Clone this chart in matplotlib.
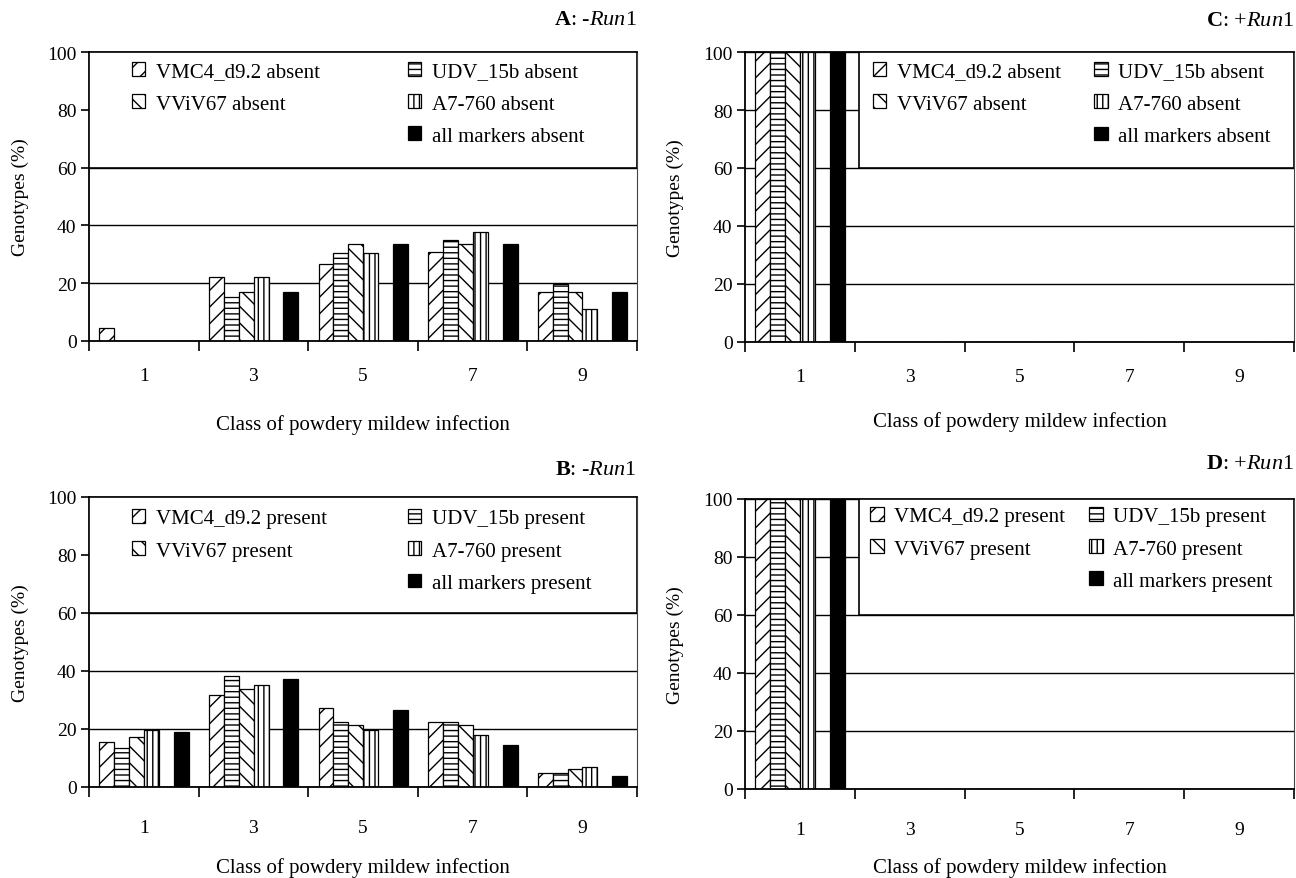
import matplotlib
matplotlib.use("Agg")
import matplotlib.pyplot as plt
from matplotlib.patches import Rectangle
import numpy as np

plt.rcParams['font.family'] = ['Liberation Serif', 'DejaVu Serif']
plt.rcParams['mathtext.fontset'] = 'custom'
plt.rcParams['mathtext.rm'] = 'Liberation Serif'
plt.rcParams['mathtext.it'] = 'Liberation Serif:italic'
plt.rcParams['mathtext.bf'] = 'Liberation Serif:bold'
plt.rcParams['hatch.linewidth'] = 1.0

# ---------------- data ----------------
classes = ["1", "3", "5", "7", "9"]
markers = ["VMC4_d9.2", "UDV_15b", "VViV67", "A7-760", "all markers"]

# Panel A: -Run1, markers absent
A_vmc4 = [4.6, 22.3, 26.5, 30.9, 17.1]
A_udv = [0.0, 15.3, 30.4, 35.1, 19.8]
A_vviv = [0.0, 16.9, 33.5, 33.5, 16.9]
A_a7 = [0.0, 22.3, 30.4, 37.6, 11.2]
A_all = [0.0, 16.9, 33.5, 33.5, 16.9]

# Panel B: -Run1, markers present
B_vmc4 = [15.5, 31.7, 27.1, 22.5, 4.9]
B_udv = [13.4, 38.3, 22.5, 22.5, 4.9]
B_vviv = [17.3, 33.9, 21.5, 21.5, 6.3]
B_a7 = [19.8, 35.1, 19.8, 17.9, 7.0]
B_all = [18.9, 37.1, 26.5, 14.6, 3.8]

# Panel C: +Run1, markers absent
C_vmc4 = [100, 0, 0, 0, 0]
C_udv = [100, 0, 0, 0, 0]
C_vviv = [100, 0, 0, 0, 0]
C_a7 = [100, 0, 0, 0, 0]
C_all = [100, 0, 0, 0, 0]

# Panel D: +Run1, markers present
D_vmc4 = [100, 0, 0, 0, 0]
D_udv = [100, 0, 0, 0, 0]
D_vviv = [100, 0, 0, 0, 0]
D_a7 = [100, 0, 0, 0, 0]
D_all = [100, 0, 0, 0, 0]

# ---------------- style ----------------
hatches = ['//', '---', '\\\\', '|||', None]
slots = [0, 1, 2, 3, 5]
BAR_W = 0.136
OFFSET = 0.094
FS = 15

W, H = 1296, 879
fig = plt.figure(figsize=(W / 100, H / 100), dpi=100)


def rect_px(left, right, top, bottom):
    return [left / W, 1 - bottom / H, (right - left) / W, (bottom - top) / H]


def panel(rect, series, state, title, title_y, box_x, col1_x, col2_x, leg_top,
          tick_pad, xlabel_y):
    ax = fig.add_axes(rect)
    ax.set_axisbelow(True)
    x = np.arange(len(classes))
    bars = []
    for k, (vals, h) in enumerate(zip(series, hatches)):
        pos = x + OFFSET + (slots[k] + 0.5) * BAR_W
        fc = 'black' if h is None else 'white'
        b = ax.bar(pos, vals, width=BAR_W, color=fc, edgecolor='black',
                   hatch=h, linewidth=0.9, zorder=2,
                   label=f"{markers[k]} {state}")
        bars.append(b)

    ax.set_xlim(0, 5)
    ax.set_ylim(0, 100)
    ax.set_yticks(np.arange(0, 101, 20))
    ax.yaxis.grid(True, color='black', linewidth=1.0, zorder=0.5)
    ax.tick_params(axis='y', direction='out', length=6, width=1.2, pad=3,
                   labelsize=14)
    ax.set_xticks(np.arange(0, 6))
    ax.set_xticklabels([])
    ax.set_xticks(x + 0.5, minor=True)
    ax.set_xticklabels(classes, minor=True)
    ax.tick_params(axis='x', which='major', direction='out', length=7,
                   width=1.2)
    ax.tick_params(axis='x', which='minor', length=0, pad=tick_pad,
                   labelsize=14)
    for s in ['left', 'bottom', 'top']:
        ax.spines[s].set_linewidth(1.3)
    ax.spines['right'].set_linewidth(0.8)
    ax.spines['right'].set_color('#444444')

    ax.set_ylabel("Genotypes (%)", fontsize=14)
    ax.yaxis.set_label_coords(-0.126, 0.5)
    ax.yaxis.label.set_verticalalignment('center')
    ax.set_xlabel("Class of powdery mildew infection", fontsize=15)
    ax.xaxis.set_label_coords(0.5, xlabel_y)
    ax.xaxis.label.set_verticalalignment('center')

    ax.text(1.0, title_y, title, transform=ax.transAxes, ha='right',
            va='center', fontsize=16)

    box = Rectangle((box_x, 0.6), 1 - box_x, 0.4, transform=ax.transAxes,
                    facecolor='white', edgecolor='black', linewidth=1.2,
                    zorder=3)
    ax.add_patch(box)

    common = dict(loc='upper left', frameon=False, handlelength=0.65,
                  handleheight=0.65, handletextpad=0.5, labelspacing=0.62,
                  borderpad=0, borderaxespad=0, fontsize=FS)
    leg1 = ax.legend([bars[0], bars[2]],
                     [f"{markers[0]} {state}", f"{markers[2]} {state}"],
                     bbox_to_anchor=(col1_x, leg_top), **common)
    leg1.set_zorder(5)
    ax.add_artist(leg1)
    leg2 = ax.legend([bars[1], bars[3], bars[4]],
                     [f"{markers[1]} {state}", f"{markers[3]} {state}",
                      f"{markers[4]} {state}"],
                     bbox_to_anchor=(col2_x, leg_top), **common)
    leg2.set_zorder(5)
    return ax


panel(rect_px(89, 637, 53, 342), [A_vmc4, A_udv, A_vviv, A_a7, A_all],
      "absent", r"$\mathbf{A}$: -$\mathit{Run1}$", 1.114,
      0.0, 0.078, 0.582, 0.965, 19, -0.287)
panel(rect_px(89, 637, 498, 788), [B_vmc4, B_udv, B_vviv, B_a7, B_all],
      "present", r"$\mathbf{B}$: -$\mathit{Run1}$", 1.094,
      0.0, 0.078, 0.582, 0.958, 23, -0.276)
panel(rect_px(745, 1294, 53, 343), [C_vmc4, C_udv, C_vviv, C_a7, C_all],
      "absent", r"$\mathbf{C}$: +$\mathit{Run1}$", 1.107,
      0.208, 0.233, 0.636, 0.965, 19, -0.272)
panel(rect_px(745, 1294, 500, 790), [D_vmc4, D_udv, D_vviv, D_a7, D_all],
      "present", r"$\mathbf{D}$: +$\mathit{Run1}$", 1.121,
      0.208, 0.228, 0.627, 0.972, 23, -0.269)

fig.savefig("out.png", dpi=100)
